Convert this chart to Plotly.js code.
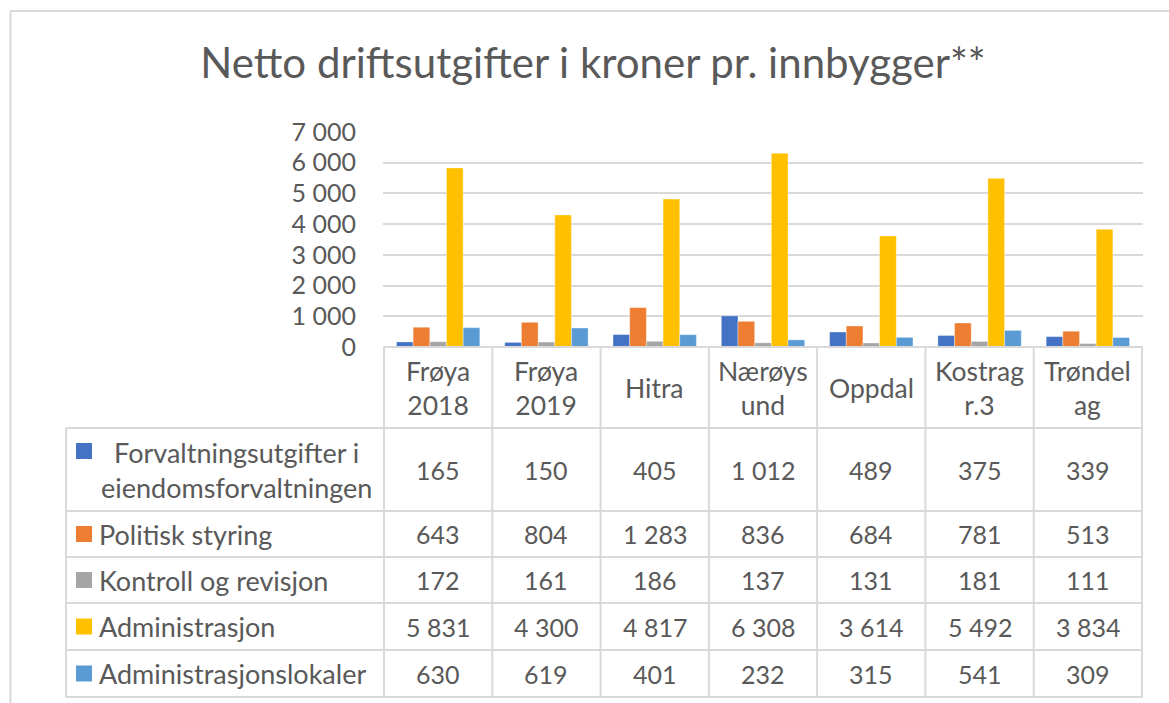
<!DOCTYPE html>
<html>
<head>
<meta charset="utf-8">
<script src="https://cdn.plot.ly/plotly-3.0.1.min.js"></script>
<style>html,body{margin:0;padding:0;background:#fff;}#chart{width:1169px;height:703px;}</style>
</head>
<body>
<div id="chart"></div>
<script>
// ---- data ----
const categories = ["Frøya 2018", "Frøya 2019", "Hitra", "Nærøysund", "Oppdal", "Kostragr.3", "Trøndelag"];
const headerLabels = ["Frøya<br>2018", "Frøya<br>2019", "Hitra", "Nærøys<br>und", "Oppdal", "Kostrag<br>r.3", "Trøndel<br>ag"];
const seriesNames = ["Forvaltningsutgifter i eiendomsforvaltningen", "Politisk styring", "Kontroll og revisjon", "Administrasjon", "Administrasjonslokaler"];
const seriesLabels = ["Forvaltningsutgifter i<br>eiendomsforvaltningen", "Politisk styring", "Kontroll og revisjon", "Administrasjon", "Administrasjonslokaler"];
const forvaltning = [165, 150, 405, 1012, 489, 375, 339];
const politisk = [643, 804, 1283, 836, 684, 781, 513];
const kontroll = [172, 161, 186, 137, 131, 181, 111];
const administrasjon = [5831, 4300, 4817, 6308, 3614, 5492, 3834];
const lokaler = [630, 619, 401, 232, 315, 541, 309];
const seriesValues = [forvaltning, politisk, kontroll, administrasjon, lokaler];
const seriesColors = ["#4472C4", "#ED7D31", "#A5A5A5", "#FFC000", "#5B9BD5"];
const yTicks = [0, 1000, 2000, 3000, 4000, 5000, 6000, 7000];

// ---- layout helpers (pixel -> paper) ----
const W = 1169, H = 703;
const px = x => x / W;
const py = y => 1 - y / H;
const FONT = "Lato, 'Open Sans', sans-serif";
const TXT = "#595959";
const GRID = "#d9d9d9";

const plotLeft = 383, plotRight = 1143, plotTop = 132, plotBottom = 347;
const rowLines = [428, 511, 557, 603, 650, 697];
const tableLeft = 66;

function fmt(v) {
  return String(v).replace(/\B(?=(\d{3})+(?!\d))/g, " ");
}

const traces = seriesValues.map((vals, i) => ({
  type: "bar",
  name: seriesNames[i],
  x: categories,
  y: vals,
  marker: { color: seriesColors[i], line: { color: "rgba(255,255,255,0.6)", width: 0.6 } },
  hoverinfo: "x+y+name"
}));

const shapes = [];
const annotations = [];

// outer frame
shapes.push({ type: "line", xref: "paper", yref: "paper", x0: px(10), x1: px(1169), y0: py(11), y1: py(11), line: { color: GRID, width: 2 } });
shapes.push({ type: "line", xref: "paper", yref: "paper", x0: px(10.5), x1: px(10.5), y0: py(11), y1: py(703), line: { color: GRID, width: 2 } });

// table horizontal lines
shapes.push({ type: "line", xref: "paper", yref: "paper", x0: px(plotLeft), x1: px(plotRight), y0: py(plotBottom), y1: py(plotBottom), line: { color: GRID, width: 2 } });
rowLines.forEach(y => {
  shapes.push({ type: "line", xref: "paper", yref: "paper", x0: px(tableLeft), x1: px(plotRight), y0: py(y), y1: py(y), line: { color: GRID, width: 2 } });
});
// table left border
shapes.push({ type: "line", xref: "paper", yref: "paper", x0: px(tableLeft), x1: px(tableLeft), y0: py(rowLines[0]), y1: py(rowLines[rowLines.length - 1]), line: { color: GRID, width: 2 } });
// column separators (through the x axis scale)
for (let i = 0; i <= categories.length; i++) {
  shapes.push({ type: "line", xref: "x", yref: "paper", x0: i - 0.5, x1: i - 0.5, y0: py(plotBottom), y1: py(rowLines[rowLines.length - 1]), line: { color: GRID, width: 2 } });
}

// header labels
headerLabels.forEach((lab, i) => {
  annotations.push({ xref: "x", yref: "paper", x: i, y: py((plotBottom + rowLines[0]) / 2), text: lab, showarrow: false, xanchor: "center", yanchor: "middle", align: "center", font: { family: FONT, size: 26.5, color: TXT } });
});

// rows
seriesValues.forEach((vals, r) => {
  const top = rowLines[r], bot = rowLines[r + 1];
  const cy = (top + bot) / 2;
  // legend key
  const keyCy = r === 0 ? 451 : cy;
  shapes.push({ type: "rect", xref: "paper", yref: "paper", x0: px(76), x1: px(92), y0: py(keyCy - 8), y1: py(keyCy + 8), fillcolor: seriesColors[r], line: { width: 0 } });
  if (r === 0) {
    annotations.push({ xref: "paper", yref: "paper", x: px(236), y: py(cy), text: seriesLabels[r], showarrow: false, xanchor: "center", yanchor: "middle", align: "center", font: { family: FONT, size: 27, color: TXT } });
  } else {
    annotations.push({ xref: "paper", yref: "paper", x: px(97), y: py(cy), text: seriesLabels[r], showarrow: false, xanchor: "left", yanchor: "middle", align: "left", font: { family: FONT, size: 27, color: TXT } });
  }
  vals.forEach((v, i) => {
    annotations.push({ xref: "x", yref: "paper", x: i, y: py(cy), text: fmt(v), showarrow: false, xanchor: "center", yanchor: "middle", font: { family: FONT, size: 25, color: TXT } });
  });
});

const layout = {
  width: W, height: H,
  margin: { l: 0, r: 0, t: 0, b: 0 },
  paper_bgcolor: "#fff", plot_bgcolor: "#fff",
  separators: ", ",
  showlegend: false,
  barmode: "group",
  bargap: 0.23,
  bargroupgap: 0,
  title: { text: "Netto driftsutgifter i kroner pr. innbygger**", x: px(593), xanchor: "center", y: py(63), yanchor: "middle", font: { family: FONT, size: 42, color: TXT } },
  xaxis: { domain: [px(plotLeft), px(plotRight)], showticklabels: false, showgrid: false, zeroline: false, showline: false, ticks: "", fixedrange: true },
  yaxis: { domain: [py(plotBottom), py(plotTop)], range: [0, 7000], tickvals: yTicks, tickformat: ",d", showgrid: true, gridcolor: GRID, gridwidth: 2, zeroline: false, showline: false, ticks: "", ticklabelstandoff: 26, tickfont: { family: FONT, size: 25, color: TXT }, fixedrange: true },
  shapes: shapes,
  annotations: annotations
};

Plotly.newPlot("chart", traces, layout, { displayModeBar: false, staticPlot: true });
</script>
</body>
</html>
